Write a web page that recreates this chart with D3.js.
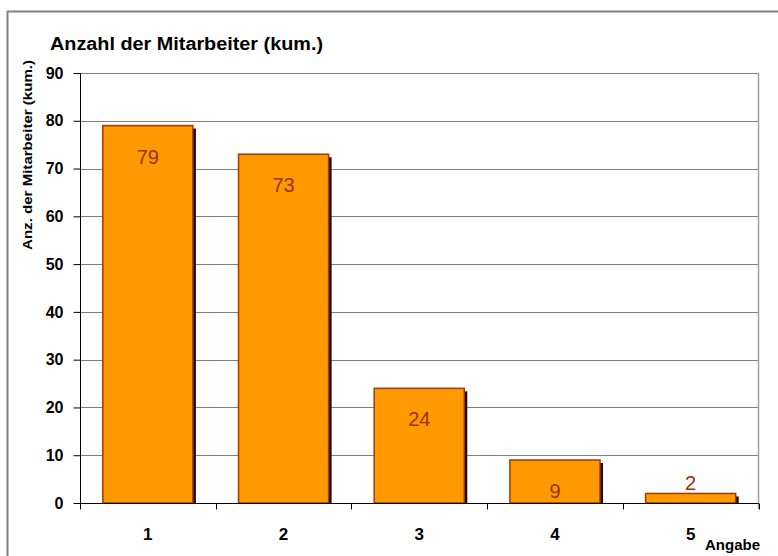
<!DOCTYPE html>
<html>
<head>
<meta charset="utf-8">
<script src="https://cdn.jsdelivr.net/npm/d3@7"></script>
<style>
  body { margin: 0; background: #fff; }
  svg { display: block; font-family: Arial, "Liberation Sans", sans-serif; }
</style>
</head>
<body>
<svg id="chart" width="778" height="556"></svg>
<script>
const categories = ['1', '2', '3', '4', '5'];
const values = [79, 73, 24, 9, 2];
const yTicks = [0, 10, 20, 30, 40, 50, 60, 70, 80, 90];
const title = 'Anzahl der Mitarbeiter (kum.)';
const yTitle = 'Anz. der Mitarbeiter (kum.)';
const xTitle = 'Angabe';

const svg = d3.select('#chart');
const plot = { left: 80, right: 758.5, top: 73, bottom: 503 };

// outer frame (runs off the picture at right and bottom)
svg.append('rect')
  .attr('x', 7.5).attr('y', 11.5)
  .attr('width', 800).attr('height', 600)
  .attr('fill', 'none').attr('stroke', '#808080').attr('stroke-width', 2);

const x = d3.scaleBand().domain(categories).range([plot.left, plot.right])
  .paddingInner(0.336).paddingOuter(0.168);
const y = d3.scaleLinear().domain([0, 90]).range([plot.bottom, plot.top]);

// gridlines
svg.append('g').selectAll('line').data(yTicks.filter(d => d > 0)).enter()
  .append('line')
  .attr('x1', plot.left).attr('x2', plot.right)
  .attr('y1', d => Math.round(y(d)) + 0.5).attr('y2', d => Math.round(y(d)) + 0.5)
  .attr('stroke', '#808080').attr('stroke-width', 1);

// right edge of plot
svg.append('line')
  .attr('x1', plot.right).attr('x2', plot.right).attr('y1', plot.top).attr('y2', plot.bottom + 6)
  .attr('stroke', '#a0a0a0').attr('stroke-width', 1.5);

// shadows
svg.append('g').selectAll('rect').data(values).enter()
  .append('rect')
  .attr('x', (d, i) => x(categories[i]) + 3)
  .attr('y', d => y(d) + 3)
  .attr('width', x.bandwidth())
  .attr('height', d => plot.bottom - y(d) - 3)
  .attr('fill', '#1a0a00');

// bars
svg.append('g').selectAll('rect').data(values).enter()
  .append('rect')
  .attr('x', (d, i) => x(categories[i]))
  .attr('y', d => y(d))
  .attr('width', x.bandwidth())
  .attr('height', d => plot.bottom - y(d))
  .attr('fill', '#ff9900')
  .attr('stroke', '#a33a00').attr('stroke-width', 1.5);

// value labels
svg.append('g').selectAll('text').data(values).enter()
  .append('text')
  .attr('x', (d, i) => x(categories[i]) + x.bandwidth() / 2)
  .attr('y', d => d > 5 ? y(d) + 38 : y(d) - 3)
  .attr('text-anchor', 'middle')
  .attr('font-size', 20)
  .attr('fill', '#993300')
  .text(d => d);

// y axis
const yAxis = svg.append('g')
  .attr('transform', `translate(${plot.left + 0.5},0)`)
  .call(d3.axisLeft(y).tickValues(yTicks).tickSize(7).tickPadding(10));
yAxis.select('.domain').remove();
yAxis.append('line').attr('y1', plot.top).attr('y2', plot.bottom + 6).attr('stroke', '#000');
yAxis.selectAll('.tick line').attr('stroke', '#000');
yAxis.selectAll('.tick text')
  .attr('font-size', 16).attr('font-weight', 'bold').attr('fill', '#000')
  .attr('font-family', 'Arial, "Liberation Sans", sans-serif');

// x axis
const xAxis = svg.append('g')
  .attr('transform', `translate(0,${plot.bottom + 0.5})`);
xAxis.append('line').attr('x1', plot.left).attr('x2', plot.right).attr('stroke', '#000');
const edges = d3.range(categories.length + 1).map(i => plot.left + i * x.step());
xAxis.selectAll('line.tk').data(edges).enter()
  .append('line').attr('class', 'tk')
  .attr('x1', d => Math.round(d) + 0.5).attr('x2', d => Math.round(d) + 0.5)
  .attr('y1', 0).attr('y2', 6).attr('stroke', '#000');
xAxis.selectAll('text').data(categories).enter()
  .append('text')
  .attr('x', d => x(d) + x.bandwidth() / 2)
  .attr('y', 36)
  .attr('text-anchor', 'middle')
  .attr('font-size', 17).attr('font-weight', 'bold')
  .text(d => d);

// titles
svg.append('text')
  .attr('x', 50).attr('y', 50)
  .attr('font-size', 18).attr('font-weight', 'bold')
  .attr('textLength', 273).attr('lengthAdjust', 'spacingAndGlyphs')
  .text(title);

svg.append('text')
  .attr('transform', 'translate(32,155) rotate(-90)')
  .attr('text-anchor', 'middle')
  .attr('font-size', 13).attr('font-weight', 'bold')
  .attr('textLength', 190).attr('lengthAdjust', 'spacingAndGlyphs')
  .text(yTitle);

svg.append('text')
  .attr('x', 705).attr('y', 550)
  .attr('font-size', 14).attr('font-weight', 'bold')
  .attr('textLength', 55).attr('lengthAdjust', 'spacingAndGlyphs')
  .text(xTitle);
</script>
</body>
</html>
